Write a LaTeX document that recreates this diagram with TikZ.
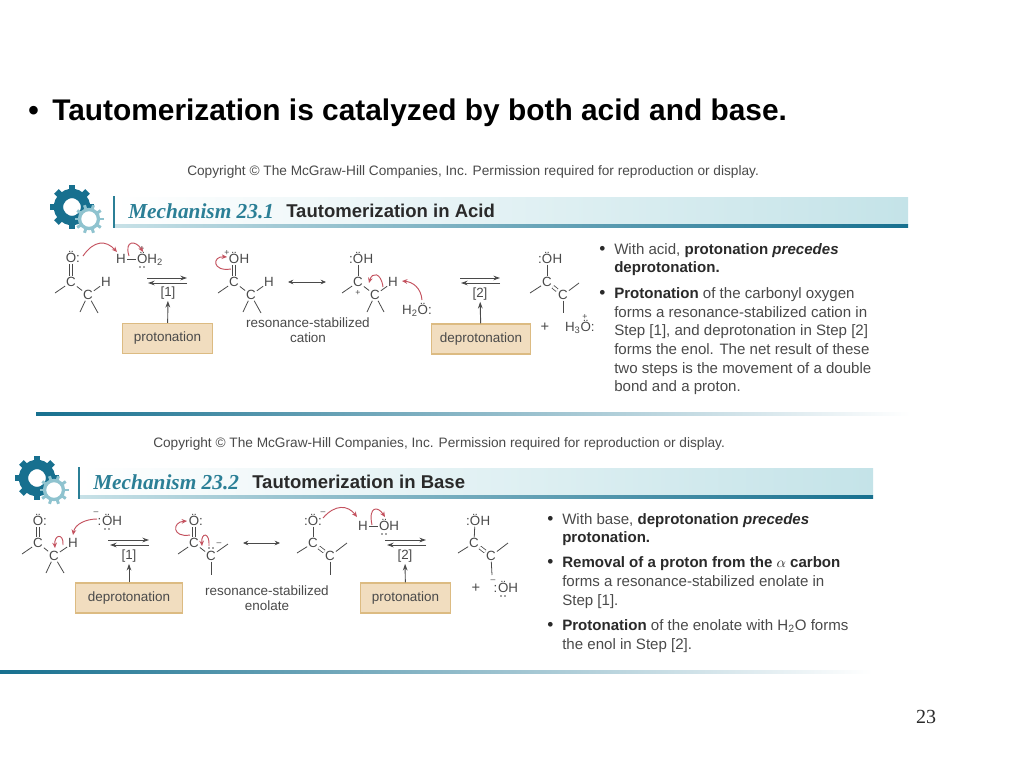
\documentclass[tikz,border=0pt]{standalone}
\usepackage{fontspec}
\setmainfont{Liberation Sans}
\newfontfamily\serifface{Liberation Serif}
\usetikzlibrary{arrows.meta}
\definecolor{txt}{HTML}{4A4A4A}
\definecolor{dark}{HTML}{2A2A2A}
\definecolor{teal}{HTML}{2B7F96}
\definecolor{gearbig}{HTML}{17708F}
\definecolor{gearsmall}{HTML}{8FC3CF}
\definecolor{bandend}{HTML}{C4E3E8}
\definecolor{crv}{HTML}{C4525F}
\definecolor{boxfill}{HTML}{F1DDBF}
\definecolor{boxline}{HTML}{DCBB82}
\tikzset{
	gearicon/.pic={
		\foreach \a in {0,45,...,315} \draw[gearbig, line width=4.8] (\a:15) -- (\a:22);
		\draw[gearbig, line width=7] (0,0) circle (13.5);
		\foreach \a in {0,36,...,324} \draw[gearsmall, line width=2.2] (17,12) ++(\a:9) -- ++(\a:5.5);
		\draw[gearsmall, fill=white, line width=2.5] (17,12) circle (9.5);
	},
	lpair/.pic={
		\fill[txt] (-2,0) circle (0.9) (2,0) circle (0.9);
	},
	atom/.style={font=\fontsize{10}{11}\selectfont, text=txt, inner sep=0.6pt, text height=7pt, text depth=0pt},
	atomw/.style={atom, anchor=west},
	charge/.style={font=\fontsize{6.5}{7}\selectfont, text=txt, inner sep=0pt},
	bond/.style={draw=txt, line width=0.6pt},
	dbond/.style={draw=txt, line width=0.6pt, double=white, double distance=1.8pt},
	curved/.style={draw=crv, line width=0.7pt, -{Stealth[length=4pt,width=3.5pt]}},
	eqarrow/.style={draw=txt, line width=0.7pt, -{Stealth[length=5pt,width=3.5pt]}},
	resarrow/.style={draw=txt, line width=0.6pt, {Stealth[length=4pt,width=3.5pt]}-{Stealth[length=4pt,width=3.5pt]}},
	steplab/.style={font=\fontsize{10}{11}\selectfont, text=txt, inner sep=1pt},
	stepbox/.style={fill=boxfill, draw=boxline, line width=1pt, font=\fontsize{10.1}{11}\selectfont, text=txt, minimum height=22.5pt, inner sep=0pt},
	reslab/.style={font=\fontsize{10.1}{11.5}\selectfont, text=txt, align=center, inner sep=0pt},
	copy/.style={font=\fontsize{10.25}{11}\selectfont, text=dark!85, inner sep=0pt, anchor=base west},
	mechname/.style={font=\serifface\bfseries\itshape\fontsize{16}{18}\selectfont, text=teal, inner sep=0pt, anchor=base west},
	mechtitle/.style={font=\bfseries\fontsize{13.9}{15}\selectfont, text=dark, inner sep=0pt, anchor=base west},
	bodytxt/.style={font=\fontsize{11.3}{14}\selectfont, text=txt, inner sep=0pt, anchor=base west, align=left},
	bulletmark/.style={font=\fontsize{13}{14}\selectfont, text=dark, inner sep=0pt, anchor=base west}
}
\begin{document}
\begin{tikzpicture}[x=0.75pt, y=-0.75pt]
	\useasboundingbox (0,0) rectangle (1024,768);
	\fill[white] (0,0) rectangle (1024,768);
	% heading and page number
	\draw (28,120) node[inner sep=0pt, anchor=base west, font=\bfseries\fontsize{22.4}{26}\selectfont](bul) {•};
	\draw (52,120) node[inner sep=0pt, anchor=base west, font=\bfseries\fontsize{22.4}{26}\selectfont](head) {Tautomerization is catalyzed by both acid and base.};
	\draw (926,717) node[font=\serifface\fontsize{15}{18}\selectfont, text=dark](pageno) {23};
	% first panel, header
	\draw (187,175) node[copy](copyA) {Copyright © The McGraw-Hill Companies, Inc. Permission required for reproduction or display.};
	\shade[left color=white, right color=bandend] (115,197) rectangle (908,224);
	\shade[left color=gearsmall!50, right color=gearbig] (115,224) rectangle (908,227);
	\draw[teal, line width=2] (114,196) -- (114,228);
	\pic at (72,207) {gearicon};
	\draw (128,218) node[mechname](mechA) {Mechanism 23.1};
	\draw (286,217) node[mechtitle](titleA) {Tautomerization in Acid};
	% first panel, ketone
	\draw (71,258) node[atom](oa) {Ö};
	\draw (78,258) node[atom](oar) {:};
	\draw (71,282) node[atom](ca) {C};
	\draw (88,295) node[atom](cb) {C};
	\draw (106,282) node[atom](ha) {H};
	\draw[dbond] (oa) -- (ca);
	\draw[bond] (ca) -- (cb);
	\draw[bond] (cb) -- (ha);
	\draw[bond] (ca) -- (55,293) coordinate(cal);
	\draw[bond] (cb) -- (80,312) coordinate(cbl);
	\draw[bond] (cb) -- (98,313) coordinate(cbr);
	\draw (121,259) node[atom](hb) {H};
	\draw (136,259) node[atomw](ob) {ÖH\textsubscript{2}};
	\draw (142,249) node[charge](obp) {+};
	\pic at (142,267) {lpair};
	\draw[bond] (hb) -- (ob);
	\coordinate (cra) at (83,256);
	\coordinate (crb) at (117,252);
	\coordinate (crc) at (129,256);
	\coordinate (crd) at (143,252);
	\draw[curved] (cra) .. controls (94,240) and (106,240) .. (crb);
	\draw[curved] (crc) .. controls (124,240) and (136,240) .. (crd);
	% first panel, step 1
	\coordinate (ea) at (147,278);
	\coordinate (eb) at (187,278);
	\coordinate (ec) at (148,283);
	\coordinate (ed) at (187,283);
	\draw[eqarrow] (ea) -- (eb);
	\draw[eqarrow] (ed) -- (ec);
	\draw (168,293) node[steplab](laba) {[1]};
	\draw (167.5,338.5) node[stepbox, minimum width=67.5pt](boxa) {protonation};
	\draw[eqarrow] (boxa) -- (laba);
	% first panel, cation 1
	\draw (234,259) node[atom](oc) {Ö};
	\draw (238.5,259) node[atomw](och) {H};
	\draw (227,253) node[charge](ocp) {+};
	\draw (234,282) node[atom](cc) {C};
	\draw (251,295) node[atom](cd) {C};
	\draw (269,282) node[atom](hc) {H};
	\draw[dbond] (oc) -- (cc);
	\draw[bond] (cc) -- (cd);
	\draw[bond] (cd) -- (hc);
	\draw[bond] (cc) -- (218,293) coordinate(ccl);
	\draw[bond] (cd) -- (243,312) coordinate(cdl);
	\draw[bond] (cd) -- (261,313) coordinate(cdr);
	\coordinate (cre) at (231,269);
	\coordinate (crf) at (227,257);
	\draw[curved] (cre) .. controls (212,272) and (212,256) .. (crf);
	\coordinate (ra) at (288,282);
	\coordinate (rb) at (326,282);
	\draw[resarrow] (ra) -- (rb);
	\draw (308,330) node[reslab](resa) {resonance-stabilized\\cation};
	% first panel, cation 2
	\draw (358,259) node[atom](oe) {Ö};
	\draw (362.5,259) node[atomw](oeh) {H};
	\draw (351,259) node[atom](oel) {:};
	\draw (358,282) node[atom](ce) {C};
	\draw (358,293) node[charge](cep) {+};
	\draw (375,295) node[atom](cf) {C};
	\draw (393,282) node[atom](he) {H};
	\draw[bond] (oe) -- (ce);
	\draw[bond] (ce) -- (cf);
	\draw[bond] (cf) -- (he);
	\draw[bond] (ce) -- (342,293) coordinate(cel);
	\draw[bond] (cf) -- (367,312) coordinate(cfl);
	\draw[bond] (cf) -- (384,312) coordinate(cfr);
	\coordinate (crg) at (383,287);
	\coordinate (crh) at (369,283);
	\draw[curved] (crg) .. controls (381,272) and (372,272) .. (crh);
	\draw (417,310) node[atom](wa) {H\textsubscript{2}Ö:};
	\coordinate (cri) at (422,300);
	\coordinate (crj) at (402,281);
	\draw[curved] (cri) .. controls (421,288) and (413,282) .. (crj);
	% first panel, step 2
	\coordinate (ee) at (460,278);
	\coordinate (ef) at (500,278);
	\coordinate (eg) at (461,283);
	\coordinate (eh) at (500,283);
	\draw[eqarrow] (ee) -- (ef);
	\draw[eqarrow] (eh) -- (eg);
	\draw (480,294) node[steplab](labb) {[2]};
	\draw (481,339) node[stepbox, minimum width=74.5pt](boxb) {deprotonation};
	\draw[eqarrow] (boxb) -- (labb);
	% first panel, enol
	\draw (547,259) node[atom](og) {Ö};
	\draw (551.5,259) node[atomw](ogh) {H};
	\draw (540,259) node[atom](ogl) {:};
	\draw (547,282) node[atom](cg) {C};
	\draw (563,295) node[atom](ch) {C};
	\draw[bond] (og) -- (cg);
	\draw[dbond] (cg) -- (ch);
	\draw[bond] (cg) -- (530,293) coordinate(cgl);
	\draw[bond] (ch) -- (579,283) coordinate(chr);
	\draw[bond] (ch) -- (563,313) coordinate(chd);
	\draw (545,327) node[atom, font=\fontsize{11}{12}\selectfont](pa) {+};
	\draw (564,327) node[atomw](hy) {H\textsubscript{3}Ö:};
	\draw (585,317) node[charge](hyp) {+};
	% first panel, notes
	\draw (599,254) node[bulletmark](ba) {•};
	\draw (614,272.7) node[bodytxt](ta) {With acid, \textcolor{dark}{\textbf{protonation \textit{precedes}}}\\\textcolor{dark}{\textbf{deprotonation.}}};
	\draw (599,298) node[bulletmark](bb) {•};
	\draw (614,391.7) node[bodytxt](tb) {\textcolor{dark}{\textbf{Protonation}} of the carbonyl oxygen\\forms a resonance-stabilized cation in\\Step [1], and deprotonation in Step [2]\\forms the enol. The net result of these\\two steps is the movement of a double\\bond and a proton.};
	\shade[left color=gearbig, middle color=teal!85, right color=white] (36,412) rectangle (910,415);
	% second panel, header
	\draw (153,447) node[copy](copyB) {Copyright © The McGraw-Hill Companies, Inc. Permission required for reproduction or display.};
	\shade[left color=white, right color=bandend] (80,468) rectangle (873,495);
	\shade[left color=gearsmall!50, right color=gearbig] (80,495) rectangle (873,498);
	\draw[teal, line width=2] (79,467) -- (79,499);
	\pic at (37,478) {gearicon};
	\draw (93,489) node[mechname](mechB) {Mechanism 23.2};
	\draw (252,488) node[mechtitle](titleB) {Tautomerization in Base};
	% second panel, ketone
	\draw (38,521) node[atom](oi) {Ö};
	\draw (45,521) node[atom](oir) {:};
	\draw (38,543) node[atom](ci) {C};
	\draw (54,556) node[atom](cj) {C};
	\draw (73,543) node[atom](hi) {H};
	\draw[dbond] (oi) -- (ci);
	\draw[bond] (ci) -- (cj);
	\draw[bond] (cj) -- (hi);
	\draw[bond] (ci) -- (22,554) coordinate(cil);
	\draw[bond] (cj) -- (46,573) coordinate(cjl);
	\draw[bond] (cj) -- (64,573) coordinate(cjr);
	\draw (99.5,521) node[atom](ojl) {:};
	\draw (101,521) node[atomw](oj) {ÖH};
	\draw (96,513) node[charge](ojm) {–};
	\pic at (107,529) {lpair};
	\coordinate (crk) at (97,519);
	\coordinate (crl) at (73,535);
	\coordinate (crm) at (63,545);
	\coordinate (crn) at (55,548);
	\draw[curved] (crk) .. controls (86,519) and (75,524) .. (crl);
	\draw[curved] (crm) .. controls (64,533) and (54,534) .. (crn);
	% second panel, step 1
	\coordinate (ei) at (108,540);
	\coordinate (ej) at (149,540);
	\coordinate (ek) at (110,545);
	\coordinate (el) at (149,545);
	\draw[eqarrow] (ei) -- (ej);
	\draw[eqarrow] (el) -- (ek);
	\draw (129,556) node[steplab](labc) {[1]};
	\draw (129,598) node[stepbox, minimum width=80pt](boxc) {deprotonation};
	\draw[eqarrow] (boxc) -- (labc);
	% second panel, enolate 1
	\draw (194,521) node[atom](ok) {Ö};
	\draw (201,521) node[atom](okr) {:};
	\draw (194,543) node[atom](ck) {C};
	\draw (211,556) node[atom](cl) {C};
	\pic at (211,548) {lpair};
	\draw (219,544) node[charge](clm) {–};
	\draw[dbond] (ok) -- (ck);
	\draw[bond] (ck) -- (cl);
	\draw[bond] (ck) -- (178,554) coordinate(ckl);
	\draw[bond] (cl) -- (228,544) coordinate(clr);
	\draw[bond] (cl) -- (211,575) coordinate(cld);
	\coordinate (cro) at (190,535);
	\coordinate (crp) at (187,521);
	\coordinate (crq) at (209,546);
	\coordinate (crr) at (202,546);
	\draw[curved] (cro) .. controls (172,538) and (172,522) .. (crp);
	\draw[curved] (crq) .. controls (210,532) and (201,532) .. (crr);
	\coordinate (rc) at (243,543);
	\coordinate (rd) at (280,543);
	\draw[resarrow] (rc) -- (rd);
	\draw (267,598) node[reslab](resb) {resonance-stabilized\\enolate};
	% second panel, enolate 2
	\draw (313,521) node[atom](om) {Ö};
	\draw (306,521) node[atom](oml) {:};
	\draw (320,521) node[atom](omr) {:};
	\draw (323,513) node[charge](omm) {–};
	\draw (313,543) node[atom](cm) {C};
	\draw (330,556) node[atom](cn) {C};
	\draw[bond] (om) -- (cm);
	\draw[dbond] (cm) -- (cn);
	\draw[bond] (cm) -- (297,553) coordinate(cml);
	\draw[bond] (cn) -- (347,543) coordinate(cnr);
	\draw[bond] (cn) -- (330,575) coordinate(cnd);
	\draw (363,526) node[atom](hn) {H};
	\draw (378,526) node[atomw](on) {ÖH};
	\pic at (384,534) {lpair};
	\draw[bond] (hn) -- (on);
	\coordinate (crs) at (323,518);
	\coordinate (crt) at (357,517);
	\coordinate (cru) at (372,525);
	\coordinate (crv) at (385,517);
	\draw[curved] (crs) .. controls (335,504) and (348,505) .. (crt);
	\draw[curved] (cru) .. controls (368,506) and (378,506) .. (crv);
	% second panel, step 2
	\coordinate (em) at (385,540);
	\coordinate (en) at (426,540);
	\coordinate (eo) at (387,545);
	\coordinate (ep) at (426,545);
	\draw[eqarrow] (em) -- (en);
	\draw[eqarrow] (ep) -- (eo);
	\draw (405,556) node[steplab](labd) {[2]};
	\draw (405.5,598) node[stepbox, minimum width=67.5pt](boxd) {protonation};
	\draw[eqarrow] (boxd) -- (labd);
	% second panel, enol
	\draw (475,521) node[atom](op) {Ö};
	\draw (468,521) node[atom](opl) {:};
	\draw (479.5,521) node[atomw](oph) {H};
	\draw (474,543) node[atom](cp) {C};
	\draw (491,556) node[atom](cq) {C};
	\draw[bond] (op) -- (cp);
	\draw[dbond] (cp) -- (cq);
	\draw[bond] (cp) -- (458,553) coordinate(cpl);
	\draw[bond] (cq) -- (508,543) coordinate(cqr);
	\draw[bond] (cq) -- (492,575) coordinate(cqd);
	\draw (476,588) node[atom, font=\fontsize{11}{12}\selectfont](pb) {+};
	\draw (495.5,588) node[atom](ohl) {:};
	\draw (497,588) node[atomw](oh) {ÖH};
	\draw (493,581) node[charge](ohm) {–};
	\pic at (503,596) {lpair};
	% second panel, notes
	\draw (547,524) node[bulletmark](bc) {•};
	\draw (562,542.7) node[bodytxt](tc) {With base, \textcolor{dark}{\textbf{deprotonation \textit{precedes}}}\\\textcolor{dark}{\textbf{protonation.}}};
	\draw (547,567) node[bulletmark](bd) {•};
	\draw (562,605) node[bodytxt](td) {\textcolor{dark}{\textbf{Removal of a proton from the $\alpha$ carbon}}\\forms a resonance-stabilized enolate in\\Step [1].};
	\draw (547,630) node[bulletmark](be) {•};
	\draw (562,649) node[bodytxt](te) {\textcolor{dark}{\textbf{Protonation}} of the enolate with H\textsubscript{2}O forms\\the enol in Step [2].};
	\shade[left color=gearbig, middle color=teal!85, right color=white] (0,670) rectangle (872,673);
\end{tikzpicture}
\end{document}
